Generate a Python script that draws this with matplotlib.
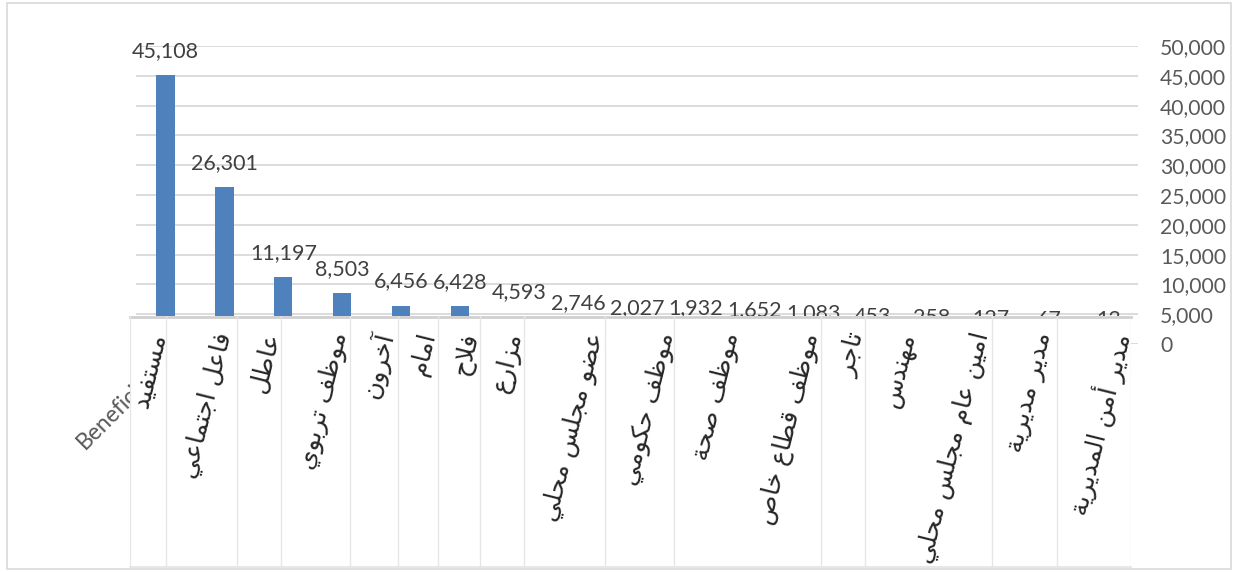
import matplotlib
matplotlib.use("Agg")
import matplotlib.pyplot as plt
from matplotlib.patches import Rectangle
import numpy as np

# ---------------- data ----------------
categories = ["مستفيد", "فاعل اجتماعي", "عاطل", "موظف تربوي", "آخرون", "امام",
              "فلاح", "مزارع", "عضو مجلس محلي", "موظف حكومي", "موظف صحة",
              "موظف قطاع خاص", "تاجر", "مهندس", "امين عام مجلس محلي",
              "مدير مديرية", "مدير أمن المديرية"]
values = [45108, 26301, 11197, 8503, 6456, 6428, 4593, 2746, 2027, 1932,
          1652, 1083, 453, 258, 127, 67, 13]
ytick_values = [0, 5000, 10000, 15000, 20000, 25000, 30000, 35000, 40000,
                45000, 50000]
hidden_title = "Beneficiary"

# ---------------- layout (pixels) ----------------
W, H = 1234, 572
label_cell_edges = [130, 166, 237, 281, 350, 398, 438, 480, 524, 605, 674,
                    821, 865, 992, 1057, 1131]
label_top_x = [159, 225, 272, 341, 385, 429, 471, 515, 597, 668, 733, 812,
               857, 909, 982, 1045, 1122]

# ---------------- minimal Arabic shaping ----------------
FORMS = {
    '\u0627': (0xFE8D, 0xFE8E, None, None),     # ا
    '\u0623': (0xFE83, 0xFE84, None, None),     # أ
    '\u0622': (0xFE81, 0xFE82, None, None),     # آ
    '\u0628': (0xFE8F, 0xFE90, 0xFE91, 0xFE92), # ب
    '\u0629': (0xFE93, 0xFE94, None, None),     # ة
    '\u062A': (0xFE95, 0xFE96, 0xFE97, 0xFE98), # ت
    '\u062C': (0xFE9D, 0xFE9E, 0xFE9F, 0xFEA0), # ج
    '\u062D': (0xFEA1, 0xFEA2, 0xFEA3, 0xFEA4), # ح
    '\u062E': (0xFEA5, 0xFEA6, 0xFEA7, 0xFEA8), # خ
    '\u062F': (0xFEA9, 0xFEAA, None, None),     # د
    '\u0631': (0xFEAD, 0xFEAE, None, None),     # ر
    '\u0632': (0xFEAF, 0xFEB0, None, None),     # ز
    '\u0633': (0xFEB1, 0xFEB2, 0xFEB3, 0xFEB4), # س
    '\u0635': (0xFEB9, 0xFEBA, 0xFEBB, 0xFEBC), # ص
    '\u0636': (0xFEBD, 0xFEBE, 0xFEBF, 0xFEC0), # ض
    '\u0637': (0xFEC1, 0xFEC2, 0xFEC3, 0xFEC4), # ط
    '\u0638': (0xFEC5, 0xFEC6, 0xFEC7, 0xFEC8), # ظ
    '\u0639': (0xFEC9, 0xFECA, 0xFECB, 0xFECC), # ع
    '\u0641': (0xFED1, 0xFED2, 0xFED3, 0xFED4), # ف
    '\u0642': (0xFED5, 0xFED6, 0xFED7, 0xFED8), # ق
    '\u0643': (0xFED9, 0xFEDA, 0xFEDB, 0xFEDC), # ك
    '\u0644': (0xFEDD, 0xFEDE, 0xFEDF, 0xFEE0), # ل
    '\u0645': (0xFEE1, 0xFEE2, 0xFEE3, 0xFEE4), # م
    '\u0646': (0xFEE5, 0xFEE6, 0xFEE7, 0xFEE8), # ن
    '\u0647': (0xFEE9, 0xFEEA, 0xFEEB, 0xFEEC), # ه
    '\u0648': (0xFEED, 0xFEEE, None, None),     # و
    '\u064A': (0xFEF1, 0xFEF2, 0xFEF3, 0xFEF4), # ي
}
LAM_ALEF = {'\u0627': (0xFEFB, 0xFEFC), '\u0623': (0xFEF7, 0xFEF8),
            '\u0622': (0xFEF5, 0xFEF6)}


def shape_arabic(s):
    toks = []
    i = 0
    while i < len(s):
        c = s[i]
        if c == '\u0644' and i + 1 < len(s) and s[i + 1] in LAM_ALEF:
            toks.append(('LA', s[i + 1]))
            i += 2
        else:
            toks.append(c)
            i += 1

    def dual(t):
        return isinstance(t, str) and t in FORMS and FORMS[t][2] is not None

    def is_letter(t):
        return (isinstance(t, tuple)) or (t in FORMS)

    out = []
    for k, t in enumerate(toks):
        prev_joins = k > 0 and dual(toks[k - 1])
        if isinstance(t, tuple):
            iso, fin = LAM_ALEF[t[1]]
            out.append(chr(fin if prev_joins else iso))
            continue
        if t not in FORMS:
            out.append(t)
            continue
        iso, fin, ini, med = FORMS[t]
        next_ok = k + 1 < len(toks) and is_letter(toks[k + 1]) and ini is not None
        if prev_joins and next_ok:
            g = med
        elif prev_joins:
            g = fin
        elif next_ok:
            g = ini
        else:
            g = iso
        out.append(chr(g))
    return ''.join(reversed(out))


# ---------------- figure ----------------
fig = plt.figure(figsize=(W / 100, H / 100), dpi=100)
fig.patch.set_facecolor('white')

# main plot area: x 136..1138 px, y 46..344 px (from top)
ax = fig.add_axes([136 / W, (H - 344) / H, (1138 - 136) / W, (344 - 46) / H])
ax.set_zorder(0)
ax.patch.set_facecolor('none')

x = np.arange(len(values))
ax.bar(x, values, width=0.31, color='#4F81BD', zorder=2)
ax.set_xlim(-0.5, len(values) - 0.5)
ax.set_ylim(0, 50000)
ax.set_yticks(ytick_values)
ax.set_yticklabels([f"{v:,}" for v in ytick_values])
ax.yaxis.tick_right()
ax.tick_params(axis='y', length=0, pad=16, labelsize=15.2, labelcolor='#595959')
for lab in ax.get_yticklabels():
    lab.set_fontfamily('Lato')
ax.set_xticks([])
ax.grid(axis='y', color='#d9d9d9', linewidth=1.3, zorder=0)
ax.set_axisbelow(True)
for sp in ax.spines.values():
    sp.set_visible(False)

for xi, v in zip(x, values):
    ax.annotate(f"{v:,}", (xi, v), xytext=(0, 13), textcoords='offset points',
                ha='center', va='baseline', fontsize=15.5, family='Lato',
                color='#404040', annotation_clip=False, zorder=3)

# hidden axis title, mostly covered by the label box
fig.text(85 / W, (H - 450) / H, hidden_title, rotation=45, rotation_mode='anchor',
         ha='left', va='baseline', fontsize=16.5, family='Lato', color='#595959',
         zorder=0.5)

# category label box (covers lower part of the plot)
bx0, bx1, by0, by1 = 130, 1131, 316, 568
ax2 = fig.add_axes([bx0 / W, (H - by1) / H, (bx1 - bx0) / W, (by1 - by0) / H])
ax2.set_zorder(1)
ax2.set_facecolor('white')
ax2.set_xlim(bx0, bx1)
ax2.set_ylim(by1, by0)
ax2.set_xticks([])
ax2.set_yticks([])
for sp in ax2.spines.values():
    sp.set_visible(False)
ax2.plot([bx0, bx1], [by0 + 0.5, by0 + 0.5], color='#d0d0d0', lw=2.0, clip_on=False)
ax2.plot([bx0, bx1], [by1 - 1, by1 - 1], color='#e3e3e3', lw=1.2, clip_on=False)
for e in label_cell_edges:
    ax2.plot([e, e], [by0, by1], color='#e6e6e6', lw=1.0)

for lx, cat in zip(label_top_x, categories):
    ax2.text(lx, 333, shape_arabic(cat), rotation=76, rotation_mode='anchor',
             ha='right', va='center', fontsize=18, family='DejaVu Sans',
             color='#262626', clip_on=True)

# outer chart border
fig.patches.append(Rectangle((7 / W, 3 / H), (1231 - 7) / W, (569 - 3) / H,
                             transform=fig.transFigure, fill=False,
                             edgecolor='#d9d9d9', lw=1.2, zorder=5))

fig.savefig('out.png', dpi=100)
